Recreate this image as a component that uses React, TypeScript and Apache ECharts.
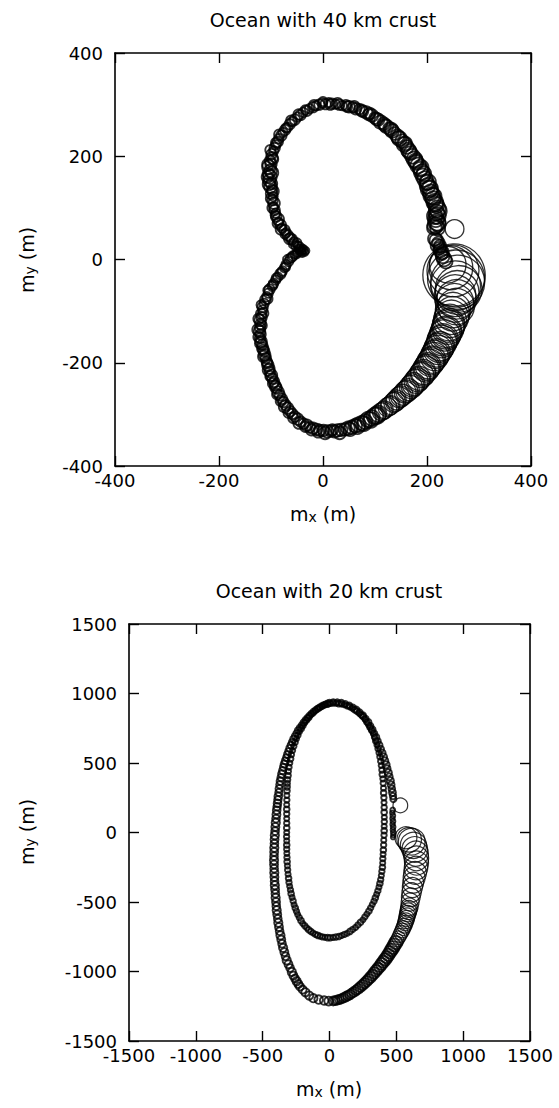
import React, { useEffect, useRef } from "react";
import * as echarts from "echarts";

// Polar-motion excursion tracks. Each row: [mx (m), my (m), circle radius (m)].

// 40 km crust: single heart-shaped loop
const crust40Track: number[][] = [
  [-33,17,7],[-37,19,8],[-35,14,7],[-41,18,8],[-39,22,7],[-44,20,8],[-46,25,9],[-42,15,8],[-49,28,8],[-52,26,9],[-50,32,9],[-56,34,9],
  [-60,39,10],[-63,43,9],[-68,47,10],[-71,52,9],[-74,57,10],[-79,61,9],[-81,67,10],[-85,72,9],[-86,78,11],[-90,83,10],[-91,90,9],[-93,96,10],
  [-95,102,9],[-94,109,11],[-97,115,10],[-96,122,9],[-99,128,11],[-98,135,10],[-101,141,12],[-99,147,11],[-103,153,12],[-102,160,13],[-105,166,11],
  [-101,172,12],[-104,179,13],[-100,185,11],[-102,191,10],[-98,197,11],[-99,204,10],[-95,210,9],[-93,216,10],[-91,222,9],[-87,228,10],[-85,234,9],
  [-80,240,10],[-77,246,9],[-73,251,10],[-68,256,9],[-64,262,10],[-59,267,9],[-54,271,10],[-49,276,9],[-43,280,10],[-38,285,9],[-31,288,10],
  [-26,292,9],[-19,295,10],[-13,298,9],[-7,300,10],[-1,303,9],[5,301,10],[11,304,9],
  [17,302,10],[24,301,9],[31,300,10],[37,298,9],[44,299,10],[50,296,11],[57,295,10],[63,292,11],[70,291,10],[76,287,11],[83,285,12],[88,281,11],
  [94,279,12],[100,274,11],[106,271,12],[111,266,13],[117,263,12],[122,258,13],[128,254,12],[133,249,13],[138,244,12],[143,239,13],[147,234,14],
  [152,229,13],[156,223,14],[161,218,13],[164,212,14],[168,206,13],[172,200,14],[176,194,15],[179,188,14],[183,182,15],[187,175,14],[190,169,15],
  [192,162,14],[196,156,15],[199,149,14],[201,143,15],[204,136,16],[207,130,15],[209,124,16],[212,117,15],[215,111,16],[218,105,15],[220,98,16],
  [218,91,15],[220,85,16],[217,78,15],[219,72,16],[216,66,15],[220,61,14],
  [253,59,18],
  [218,37,13],[222,32,12],[220,27,13],[224,22,12],[226,17,13],[228,11,12],[230,6,13],[233,1,14],[236,-4,13],
  [240,-10,35],[246,-16,42],[250,-22,50],[252,-30,60],[256,-37,55],[259,-44,52],[255,-51,48],[261,-57,45],[258,-64,42],[254,-70,40],[257,-77,38],
  [253,-84,37],[256,-91,35],[250,-98,34],[249,-105,33],[247,-112,33],[244,-119,32],[242,-126,31],[240,-133,31],[237,-140,30],[234,-147,30],
  [231,-154,29],[228,-161,29],[225,-168,28],[221,-175,28],[218,-181,27],[214,-188,27],[210,-194,26],[206,-200,26],[202,-206,25],[198,-212,25],
  [193,-218,24],[189,-224,24],[184,-230,23],[179,-236,23],[174,-241,22],[169,-247,22],[164,-252,21],[158,-257,21],[153,-262,20],[147,-267,20],
  [141,-272,19],[136,-277,19],[130,-282,18],[124,-286,18],[118,-291,17],[112,-295,17],[106,-299,16],[100,-303,16],[94,-307,15],[87,-310,15],
  [81,-314,14],[75,-317,14],[68,-320,14],[62,-322,13],[55,-325,13],[48,-327,13],[42,-329,12],[35,-330,12],[28,-331,12],[22,-333,12],[15,-332,11],
  [8,-333,12],[1,-331,11],[-6,-331,11],[-12,-329,11],[-19,-327,11],[-25,-325,10],[-31,-321,11],[-37,-318,10],[-43,-314,10],[-49,-309,11],
  [-54,-304,10],[-59,-299,10],[-63,-294,10],[-68,-288,11],[-72,-282,10],[-76,-276,10],[-79,-270,10],[-83,-263,10],[-86,-257,11],[-89,-250,10],
  [-92,-244,10],[-94,-237,10],[-97,-231,10],[-99,-224,11],[-102,-218,10],[-103,-211,10],[-106,-205,11],[-108,-198,10],[-110,-191,10],
  [-112,-185,11],[-113,-178,10],[-116,-172,11],[-117,-165,10],[-119,-159,11],[-121,-152,10],[-120,-145,10],[-122,-139,11],[-121,-132,10],
  [-120,-125,10],[-121,-118,11],[-118,-112,10],[-119,-105,10],[-116,-98,9],[-116,-92,10],[-113,-85,9],[-111,-78,10],[-108,-72,9],[-105,-65,9],
  [-103,-58,10],[-98,-52,9],[-95,-46,9],[-91,-40,9],[-87,-34,9],[-82,-28,10],[-78,-22,9],[-74,-16,9],[-71,-10,9],[-66,-4,9],[-63,2,9],
  [-58,7,9],[-54,10,8],[-49,13,8],[-45,16,8],
  // second, slightly offset pass over the same path
  [-40,13,8],[-47,21,8],[-57,30,9],[-65,40,10],[-73,49,9],[-81,58,10],[-87,70,10],[-92,86,9],[-97,100,10],[-100,118,10],[-96,132,11],[-104,146,12],
  [-107,160,11],[-98,168,12],[-106,184,11],[-96,194,10],[-101,212,10],[-90,226,10],[-84,242,10],[-71,255,9],[-61,269,10],[-47,281,10],[-34,290,9],
  [-17,299,10],[0,306,9],[14,300,10],[28,303,10],[46,296,10],[60,296,11],[74,289,11],[90,283,11],[103,272,12],[119,260,12],[131,252,13],[145,236,13],
  [158,225,13],[166,209,14],[178,191,14],[188,178,15],[194,166,14],[202,150,15],[206,138,15],[212,122,16],[216,108,15],[222,94,16],[215,84,15],
  [221,70,15],[214,62,14],[215,40,13],[225,26,12],[229,14,13],
  [32,-336,12],[18,-330,11],[4,-336,12],[-9,-334,11],[-22,-330,11],[-34,-324,10],[-46,-317,11],[-57,-307,10],[-66,-297,10],[-74,-285,11],
  [-81,-274,10],[-88,-261,10],[-91,-247,11],[-96,-240,10],[-101,-226,10],[-105,-214,11],[-107,-201,10],[-114,-188,11],[-115,-175,10],
  [-120,-162,11],[-124,-150,10],[-125,-136,11],[-118,-128,10],[-124,-115,10],[-115,-104,10],[-119,-88,9],[-107,-76,10],[-106,-60,9],
  [-96,-49,9],[-90,-36,9],[-80,-25,9],[-72,-14,9],[-68,0,9],[-60,4,9],[-51,10,8],
  [52,-329,13],[66,-324,14],[79,-318,14],[92,-311,15],[104,-302,16],[116,-293,17],[128,-284,18],[139,-275,19],[150,-265,20],[161,-255,21],
  [172,-244,22],[182,-233,23],[192,-221,24],[200,-209,25],[208,-197,26],[216,-184,27],[223,-171,28],[229,-157,29],[236,-143,30],[241,-129,31],
];

// 20 km crust: first (inner) loop
const crust20Inner: number[][] = [
  [28,932,20],[49,931,19],[69,927,21],[90,925,20],[111,919,19],[132,912,21],[153,905,20],[170,894,19],[188,883,21],[205,872,20],[221,859,19],
  [237,846,20],[253,833,21],[266,814,19],[279,794,20],[292,775,19],[304,755,21],[316,734,20],[328,714,19],[337,686,20],[346,658,21],[355,630,19],
  [363,602,20],[370,573,19],[378,545,21],[383,513,20],[387,482,19],[392,450,20],[395,418,21],[399,386,19],[402,354,20],[404,319,19],[405,285,21],
  [407,250,20],[408,215,19],[409,180,20],[409,145,21],[410,110,19],[410,78,20],[409,45,19],[409,13,21],[408,-20,20],[406,-55,19],[405,-90,20],
  [403,-126,21],[401,-157,19],[399,-188,20],[398,-219,19],[396,-250,21],[392,-280,20],[388,-310,19],[383,-340,20],[377,-367,21],[370,-393,19],
  [362,-420,20],[353,-445,19],[343,-470,21],[333,-495,20],[320,-518,19],[308,-542,20],[295,-565,21],[280,-586,19],[265,-607,20],[250,-628,19],
  [232,-646,21],[213,-665,20],[195,-683,19],[174,-697,20],[154,-711,21],[133,-725,19],[112,-733,20],[91,-741,19],[70,-748,21],[48,-752,20],
  [27,-755,19],[5,-757,20],[-14,-756,21],[-34,-754,19],[-53,-751,20],[-70,-746,19],[-88,-740,21],[-105,-733,20],[-122,-723,19],[-139,-712,20],
  [-155,-700,21],[-170,-686,19],[-185,-671,20],[-200,-655,19],[-213,-634,21],[-226,-612,20],[-238,-590,19],[-247,-567,20],[-256,-543,21],
  [-265,-520,19],[-272,-493,20],[-280,-467,19],[-287,-440,21],[-292,-413,20],[-298,-387,19],[-303,-360,20],[-306,-330,21],[-310,-300,19],
  [-313,-270,20],[-315,-240,19],[-317,-210,21],[-318,-180,20],[-319,-150,19],[-320,-120,20],[-320,-90,21],[-320,-60,19],[-321,-30,20],
  [-320,0,19],[-320,33,21],[-320,67,20],[-320,100,19],[-320,133,20],[-320,167,21],[-320,200,19],[-319,233,20],[-319,267,19],[-318,300,21],
  [-316,327,20],[-315,353,19],[-313,380,20],[-310,410,21],[-307,440,19],[-303,470,20],[-297,500,19],[-291,530,21],[-285,560,20],[-276,590,19],
  [-267,620,20],[-258,650,21],[-247,675,19],[-236,700,20],[-225,725,19],[-212,747,21],[-198,768,20],[-185,790,19],[-170,808,20],[-155,827,21],
  [-140,845,19],[-123,859,20],[-107,874,19],[-90,888,21],[-72,898,20],[-53,908,19],[-35,918,20],[-14,923,21],[7,928,19],
];

// 20 km crust: second (outer) loop
const crust20Outer: number[][] = [
  [0,934,22],[28,938,21],[58,937,22],[88,933,23],[118,925,22],[147,914,23],[175,900,22],[201,883,24],[226,864,23],[249,842,24],[270,818,23],
  [289,793,25],[305,766,24],[320,739,25],[334,712,24],[347,684,26],[359,656,25],[371,628,26],[383,600,25],[394,572,26],[404,544,27],[414,516,26],
  [423,487,27],[431,459,26],[440,430,27],[447,401,26],[455,372,27],[461,343,26],[466,315,25],[471,288,26],[475,262,24],[478,240,23],
  [530,195,55],
  [473,162,18],[470,142,17],[474,121,18],[471,101,17],[475,81,18],[472,60,17],[476,40,18],[474,20,17],[477,0,18],[478,-18,17],[475,-34,16],
  [572,-38,82],[596,-52,92],[615,-66,100],[628,-92,98],[638,-122,96],[646,-152,94],[650,-186,92],[651,-220,90],[647,-256,88],[640,-291,85],
  [633,-326,82],[626,-361,78],[620,-396,75],[614,-431,72],[608,-466,70],[603,-500,67],[598,-534,65],
  [590,-567,62],[581,-601,60],[572,-635,58],[560,-670,56],[544,-705,54],[526,-740,52],[506,-775,50],[485,-810,48],[463,-845,47],[440,-880,46],
  [416,-913,45],[390,-945,44],[363,-978,42],[335,-1010,41],[307,-1041,40],[278,-1070,39],[247,-1098,38],[215,-1124,37],[184,-1146,36],
  [153,-1166,35],[121,-1182,35],[90,-1196,34],[59,-1205,34],[28,-1212,33],[-6,-1213,33],[-40,-1209,32],[-81,-1202,32],[-121,-1192,31],
  [-152,-1173,31],[-180,-1150,31],[-201,-1130,30],[-221,-1108,30],
  [-233,-1090,30],[-246,-1070,31],[-258,-1050,29],[-270,-1030,30],[-282,-1003,31],[-295,-975,29],[-307,-948,30],[-320,-920,31],[-329,-890,29],
  [-338,-860,30],[-347,-830,31],[-355,-800,29],[-361,-770,30],[-367,-740,31],[-373,-710,29],[-378,-680,30],[-383,-650,31],[-387,-620,29],
  [-391,-590,30],[-395,-560,31],[-398,-530,29],[-400,-500,30],[-403,-470,31],[-405,-440,29],[-407,-410,30],[-409,-380,31],[-411,-350,29],
  [-412,-320,30],[-413,-290,31],[-414,-260,29],[-415,-230,30],[-415,-200,31],[-415,-170,29],[-414,-140,30],[-413,-110,31],[-412,-80,29],
  [-411,-50,30],[-409,-20,31],[-407,10,29],[-405,40,30],[-402,70,31],[-400,100,29],[-397,130,30],[-395,160,29],[-392,185,28],[-389,210,29],
  [-386,235,28],[-383,260,29],[-379,288,27],[-376,315,28],[-372,343,27],[-368,370,28],[-363,395,27],[-357,420,28],[-351,445,27],[-345,470,26],
  [-338,493,27],[-331,515,26],[-323,538,25],[-315,560,26],[-307,583,25],[-298,605,26],[-289,628,25],[-280,650,24],[-269,672,25],[-258,693,24],
  [-247,714,23],[-235,735,24],[-222,754,23],[-208,773,22],[-194,792,23],[-180,810,22],[-166,826,21],[-151,841,22],[-136,856,21],[-120,870,22],
  [-105,881,21],[-90,892,20],[-75,901,21],[-60,910,20],[-45,917,21],[-30,924,20],[-15,929,21],
  // extra samples where the lower-right band is densest
  [594,-550,63],[585,-584,61],[577,-618,59],[566,-652,57],[552,-688,55],[535,-722,53],[516,-758,51],[496,-792,49],[474,-828,48],[452,-862,46],
  [428,-897,45],[403,-929,44],[377,-962,43],[349,-994,42],[321,-1026,40],[292,-1056,39],[262,-1084,38],[231,-1111,37],[200,-1135,36],
  [168,-1156,35],[137,-1174,35],[105,-1189,34],[74,-1201,34],[43,-1209,33],
];

const crust40Range = [-400, 400];
const crust40Step = 200;
const crust20Range = [-1500, 1500];
const crust20Step = 500;

const FONT = "DejaVu Sans";
const W = 559;
const H = 1108;

const grids = [
  { left: 115, top: 53, width: 416, height: 413 },
  { left: 129, top: 624, width: 401, height: 417 },
];

function axes(gridIndex: number, range: number[], step: number, dim: "x" | "y") {
  const line = { show: true, onZero: false, lineStyle: { color: "#000", width: 1.6 } };
  const tick = { show: true, inside: true, length: 10, lineStyle: { color: "#000", width: 1.4 } };
  const base = {
    gridIndex,
    type: "value",
    min: range[0],
    max: range[1],
    interval: step,
    splitLine: { show: false },
    axisLine: line,
    axisTick: tick,
  };
  const label = {
    show: true,
    color: "#000",
    fontFamily: FONT,
    fontSize: 18,
    margin: dim === "x" ? 5 : 12,
    formatter: (v: number) => String(v),
  };
  return [
    { ...base, position: dim === "x" ? "bottom" : "left", axisLabel: label },
    { ...base, position: dim === "x" ? "top" : "right", axisLabel: { show: false } },
  ];
}

function nameText(x: number, y: number, sub: string, vertical: boolean) {
  return {
    type: "text",
    x,
    y,
    rotation: vertical ? Math.PI / 2 : 0,
    silent: true,
    style: {
      text: `{m|m}{s|${sub}}{m| (m)}`,
      align: "center",
      verticalAlign: "middle",
      fill: "#000",
      rich: {
        m: { fontFamily: FONT, fontSize: 19, fill: "#000" },
        s: { fontFamily: FONT, fontSize: 14, fill: "#000", lineHeight: 14, verticalAlign: "bottom", padding: [14, 0, 0, 0] },
      },
    },
  };
}

function titleText(x: number, y: number, text: string) {
  return {
    type: "text",
    x,
    y,
    silent: true,
    style: { text, align: "center", verticalAlign: "middle", fill: "#000", fontFamily: FONT, fontSize: 19 },
  };
}

// small circles are drawn with a heavier outline than the wide ones
function circles(
  data: number[][],
  axisIndex: number,
  pxPerMetre: number,
  splitRadius: number,
  thin: number,
  thick: number
) {
  const common = {
    type: "scatter",
    xAxisIndex: axisIndex,
    yAxisIndex: axisIndex,
    symbol: "circle",
    symbolSize: (v: number[]) => 2 * v[2] * pxPerMetre,
    silent: true,
    clip: true,
    large: false,
    progressive: 0,
  };
  return [
    {
      ...common,
      data: data.filter((d) => d[2] < splitRadius),
      itemStyle: { color: "rgba(0,0,0,0)", borderColor: "#000", borderWidth: thick },
    },
    {
      ...common,
      data: data.filter((d) => d[2] >= splitRadius),
      itemStyle: { color: "rgba(0,0,0,0)", borderColor: "#000", borderWidth: thin },
    },
  ];
}

export default function App() {
  const ref = useRef<HTMLDivElement>(null);

  useEffect(() => {
    if (!ref.current) return;
    const chart = echarts.init(ref.current, undefined, { renderer: "svg" });
    const top = axes(0, crust40Range, crust40Step, "x");
    const topY = axes(0, crust40Range, crust40Step, "y");
    const bot = axes(1, crust20Range, crust20Step, "x");
    const botY = axes(1, crust20Range, crust20Step, "y");
    const px40 = grids[0].width / (crust40Range[1] - crust40Range[0]);
    const px20 = grids[1].width / (crust20Range[1] - crust20Range[0]);

    chart.setOption({
      animation: false,
      backgroundColor: "#fff",
      grid: grids,
      xAxis: [...top, ...bot],
      yAxis: [...topY, ...botY],
      series: [
        ...circles(crust40Track, 0, px40, 17, 1.3, 1.8),
        ...circles(crust20Inner, 2, px20, 50, 1.2, 2.0),
        ...circles(crust20Outer, 2, px20, 50, 1.2, 1.9),
      ],
      graphic: [
        titleText(323, 20, "Ocean with 40 km crust"),
        titleText(329, 591, "Ocean with 20 km crust"),
        nameText(323, 514, "x", false),
        nameText(27, 260, "y", true),
        nameText(329, 1089, "x", false),
        nameText(27, 832, "y", true),
      ],
    });
    return () => chart.dispose();
  }, []);

  return (
    <div
      ref={ref}
      style={{ position: "fixed", left: 0, top: 0, width: W, height: H, background: "#fff" }}
    />
  );
}
